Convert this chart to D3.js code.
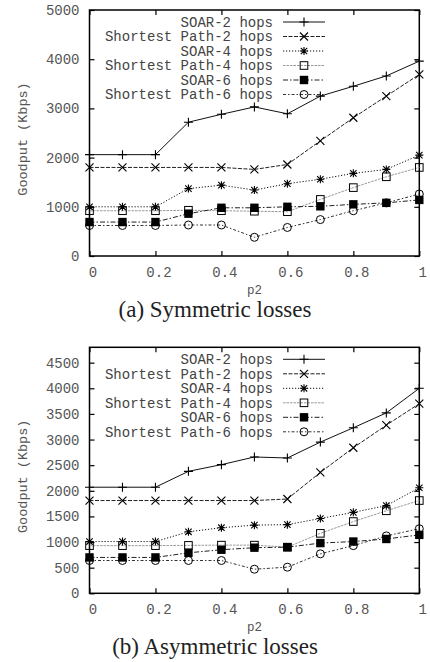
<!DOCTYPE html>
<html>
<head>
<meta charset="utf-8">
<script src="https://cdn.jsdelivr.net/npm/d3@7"></script>
<style>
body{margin:0;background:#fff;}
svg{display:block;}
</style>
</head>
<body>
<svg width="430" height="662"></svg>
<script>
// x values (p2)
const p2 = [0,0.1,0.2,0.3,0.4,0.5,0.6,0.7,0.8,0.9,1];
const seriesNames = ["SOAR-2 hops","Shortest Path-2 hops","SOAR-4 hops","Shortest Path-4 hops","SOAR-6 hops","Shortest Path-6 hops"];
const xTicks = [0,0.2,0.4,0.6,0.8,1];
const xTickLabels = ["0","0.2","0.4","0.6","0.8","1"];

// (a) symmetric losses
const symSoar2 = [2060,2060,2060,2720,2880,3030,2890,3250,3450,3660,3960];
const symSp2   = [1800,1800,1800,1800,1800,1760,1860,2340,2810,3250,3690];
const symSoar4 = [1000,1000,1000,1370,1440,1340,1470,1560,1680,1760,2050];
const symSp4   = [920,920,920,930,920,910,900,1150,1390,1610,1800];
const symSoar6 = [690,690,690,860,980,980,1000,1010,1050,1080,1140];
const symSp6   = [620,620,620,630,630,380,580,740,920,1080,1260];
const symYTicks = [0,1000,2000,3000,4000,5000];

// (b) asymmetric losses
const asymSoar2 = [2070,2070,2070,2380,2510,2660,2640,2950,3230,3520,4000];
const asymSp2   = [1810,1810,1810,1810,1810,1810,1840,2360,2840,3280,3700];
const asymSoar4 = [1010,1010,1010,1200,1280,1330,1340,1460,1580,1710,2060];
const asymSp4   = [930,930,930,935,940,940,900,1170,1400,1610,1810];
const asymSoar6 = [700,700,700,790,850,890,900,980,1010,1060,1140];
const asymSp6   = [640,640,640,640,640,470,510,770,930,1120,1260];
const asymYTicks = [0,500,1000,1500,2000,2500,3000,3500,4000,4500];

// line style per series
const styles = [
    {dash:null,        color:"#111", mark:"plus"},
    {dash:"4,1.5",     color:"#222", mark:"cross"},
    {dash:"1.2,1.8",   color:"#111", mark:"star"},
    {dash:"2.5,1",     color:"#999", mark:"box"},
    {dash:"5,2,1.5,2", color:"#222", mark:"fbox"},
    {dash:"3,2,1.5,2", color:"#333", mark:"circle"}
];

const svg = d3.select("svg");
const mono = "'Liberation Mono','DejaVu Sans Mono',monospace";

function drawMark(g, type, x, y){
    if(type=="plus"){
        g.append("path").attr("d",`M${x-4.5},${y}H${x+4.5}M${x},${y-4.5}V${y+4.5}`)
            .attr("stroke","#000").attr("stroke-width",1.1);
    }else if(type=="cross"){
        g.append("path").attr("d",`M${x-4},${y-4}L${x+4},${y+4}M${x-4},${y+4}L${x+4},${y-4}`)
            .attr("stroke","#000").attr("stroke-width",1.1);
    }else if(type=="star"){
        g.append("path").attr("d",`M${x-4},${y}H${x+4}M${x},${y-4}V${y+4}M${x-3.2},${y-3.2}L${x+3.2},${y+3.2}M${x-3.2},${y+3.2}L${x+3.2},${y-3.2}`)
            .attr("stroke","#000").attr("stroke-width",1.1);
    }else if(type=="box"){
        g.append("rect").attr("x",x-3.8).attr("y",y-3.8).attr("width",7.6).attr("height",7.6)
            .attr("fill","none").attr("stroke","#000").attr("stroke-width",1);
    }else if(type=="fbox"){
        g.append("rect").attr("x",x-4.2).attr("y",y-4.2).attr("width",8.4).attr("height",8.4)
            .attr("fill","#000");
    }else{
        g.append("circle").attr("cx",x).attr("cy",y).attr("r",4)
            .attr("fill","none").attr("stroke","#000").attr("stroke-width",1);
    }
}

const drawPanel = (cfg) => {
    var left = 89.5, right = 419.3;
    var xScale = d3.scaleLinear().domain([0,1]).range([left,right]);
    var yScale = d3.scaleLinear().domain(cfg.yDomain).range([cfg.bottom,cfg.top]);
    var g = svg.append("g");

    // 坐标轴 (gnuplot style: ticks inside, mirrored)
    var yAxisL = d3.axisLeft(yScale).tickValues(cfg.yTicks).tickSizeInner(-5).tickSizeOuter(0).tickPadding(10)
        .tickFormat(d3.format("d"));
    var gy = g.append("g").attr("transform","translate("+left+",0)").call(yAxisL);
    gy.select(".domain").remove();
    gy.selectAll("line").attr("stroke","#000").attr("stroke-width",1.2);
    gy.selectAll("text").attr("font-family",mono).attr("font-size","14px").attr("fill","#555");

    var yAxisR = d3.axisRight(yScale).tickValues(cfg.yTicks).tickSizeInner(-5).tickSizeOuter(0).tickFormat("");
    var gyr = g.append("g").attr("transform","translate("+right+",0)").call(yAxisR);
    gyr.select(".domain").remove();
    gyr.selectAll("line").attr("stroke","#000").attr("stroke-width",1.2);

    var xAxisB = d3.axisBottom(xScale).tickValues(xTicks).tickSizeInner(-5).tickSizeOuter(0).tickPadding(11)
        .tickFormat((d,i)=>xTickLabels[i]);
    var gx = g.append("g").attr("transform","translate(0,"+cfg.bottom+")").call(xAxisB);
    gx.select(".domain").remove();
    gx.selectAll("line").attr("stroke","#000").attr("stroke-width",1.2);
    gx.selectAll("text").attr("font-family",mono).attr("font-size","14px").attr("fill","#555").attr("dx",3);

    var xAxisT = d3.axisTop(xScale).tickValues(xTicks).tickSizeInner(-5).tickSizeOuter(0).tickFormat("");
    var gxt = g.append("g").attr("transform","translate(0,"+cfg.top+")").call(xAxisT);
    gxt.select(".domain").remove();
    gxt.selectAll("line").attr("stroke","#000").attr("stroke-width",1.2);

    // 边框
    g.append("rect").attr("x",left).attr("y",cfg.top)
        .attr("width",right-left).attr("height",cfg.bottom-cfg.top)
        .attr("fill","none").attr("stroke","#000").attr("stroke-width",1.5);

    // 数据线和标记
    var line = d3.line().x((d,i)=>xScale(p2[i])).y(d=>yScale(d));
    cfg.series.forEach((vals,k)=>{
        var st = styles[k];
        g.append("path").datum(vals).attr("d",line)
            .attr("fill","none").attr("stroke",st.color).attr("stroke-width",1)
            .attr("stroke-dasharray",st.dash);
    });
    cfg.series.forEach((vals,k)=>{
        vals.forEach((v,i)=>drawMark(g,styles[k].mark,xScale(p2[i]),yScale(v)));
    });

    // 图例
    var ly0 = cfg.top + 12, lstep = 14.5;
    seriesNames.forEach((name,k)=>{
        var y = ly0 + k*lstep, st = styles[k];
        g.append("text").attr("x",273).attr("y",y).attr("dy","0.35em")
            .attr("text-anchor","end").attr("font-family",mono).attr("font-size","14px")
            .attr("fill","#444").text(name);
        g.append("line").attr("x1",283).attr("x2",325).attr("y1",y).attr("y2",y)
            .attr("stroke",st.color).attr("stroke-width",1).attr("stroke-dasharray",st.dash);
        drawMark(g,st.mark,304,y);
    });

    // 轴标题
    g.append("text").attr("transform","translate(22,"+((cfg.top+cfg.bottom)/2+6)+") rotate(-90)")
        .attr("text-anchor","middle").attr("dy","0.35em")
        .attr("font-family",mono).attr("font-size","13.5px").attr("fill","#555")
        .text("Goodput (Kbps)");
    g.append("text").attr("x",(left+right)/2).attr("y",cfg.bottom+38)
        .attr("text-anchor","middle").attr("font-family",mono).attr("font-size","12.5px")
        .attr("fill","#555").text("p2");
    g.append("text").attr("x",215).attr("y",cfg.bottom+61)
        .attr("text-anchor","middle").attr("font-family","'Liberation Serif','DejaVu Serif',serif")
        .attr("font-size","23px").attr("fill","#222").text(cfg.caption);
}

drawPanel({top:10, bottom:256, yDomain:[0,5000], yTicks:symYTicks,
    series:[symSoar2,symSp2,symSoar4,symSp4,symSoar6,symSp6], caption:"(a) Symmetric losses"});
drawPanel({top:347.3, bottom:593.3, yDomain:[0,4800], yTicks:asymYTicks,
    series:[asymSoar2,asymSp2,asymSoar4,asymSp4,asymSoar6,asymSp6], caption:"(b) Asymmetric losses"});
</script>
</body>
</html>
